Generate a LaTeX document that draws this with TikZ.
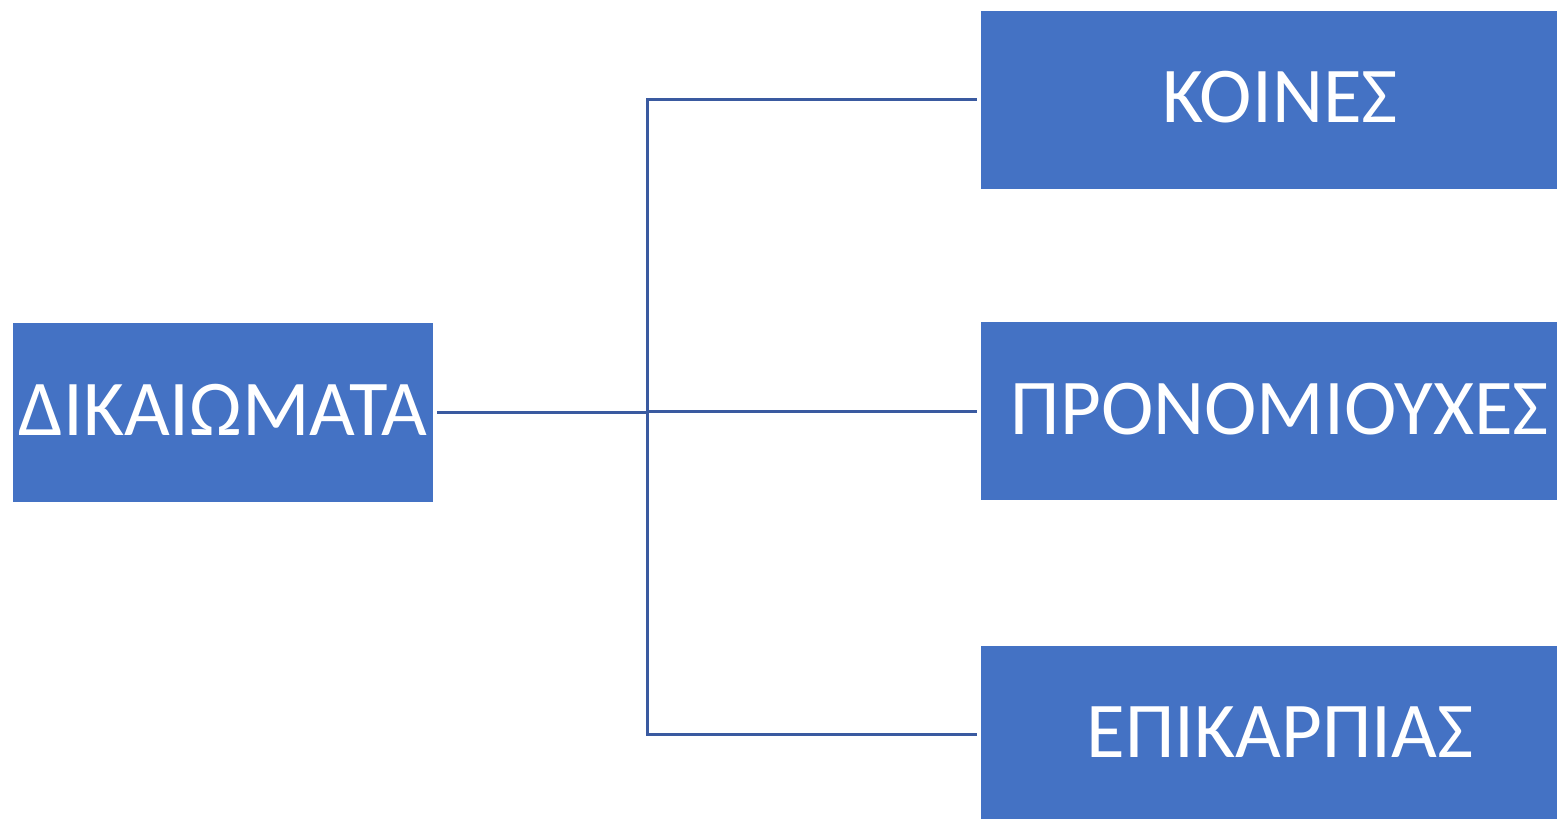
\documentclass[tikz,border=0pt]{standalone}
\usepackage{fontspec}
\setmainfont{Carlito}
\definecolor{boxblue}{HTML}{4472C4}
\definecolor{linkblue}{RGB}{58,90,160}

\begin{document}
\begin{tikzpicture}[
  every node/.style={font=\fontsize{45}{50}\selectfont},
  box/.style={fill=boxblue,text=white,inner sep=0pt,outer sep=0.08cm,text depth=0.12cm},
  link/.style={draw=linkblue,line width=1.7pt}]
% frame of the picture
\useasboundingbox (0,0) rectangle (31.14,16.38);
\clip (0,0) rectangle (31.14,16.38);

% left box
\node[box,minimum width=8.4cm,minimum height=3.58cm] (dik) at (4.46,8.13) {ΔΙΚΑΙΩΜΑΤΑ};

% right boxes
\node[box,minimum width=11.96cm,minimum height=3.56cm] (koines) at (25.6,14.38) {ΚΟΙΝΕΣ};
\node[box,minimum width=11.96cm,minimum height=3.56cm] (pronom) at (25.6,8.15) {ΠΡΟΝΟΜΙΟΥΧΕΣ};
\node[box,minimum width=11.96cm,minimum height=3.56cm] (epik) at (25.6,1.68) {ΕΠΙΚΑΡΠΙΑΣ};

% connectors
\coordinate (split) at (12.94,8.13);
\draw[link] (dik.east) -- (split);
\foreach \n in {koines,pronom,epik}
  \draw[link] (split) |- (\n.west);
\end{tikzpicture}
\end{document}
